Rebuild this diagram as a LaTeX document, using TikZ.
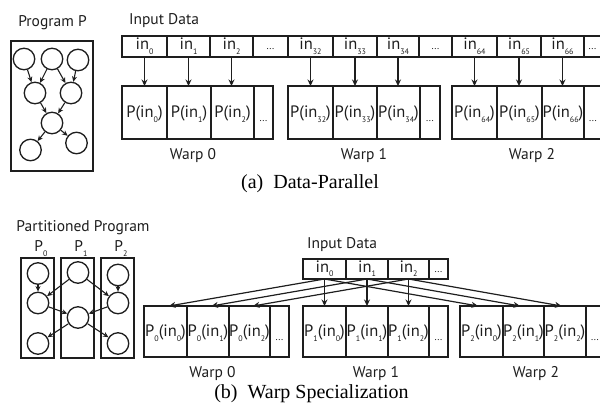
\documentclass[tikz,border=0pt]{standalone}
\usepackage{fontspec}
\setmainfont{PT Sans}
\newfontfamily\capfont{Liberation Serif}
\usetikzlibrary{arrows.meta}
\definecolor{ink}{HTML}{1E1E1E}
\newcommand{\sbs}[1]{\raisebox{-4.5pt}{\fontsize{8}{8}\selectfont #1}}
\newcommand{\dotsA}{{\fontsize{10}{10}\selectfont ...}}
\newcommand{\dotsB}{\raisebox{-4pt}{\fontsize{10}{10}\selectfont ...}}
\newcommand{\mkcell}[7][]{%
  \pgfmathsetmacro\mkX{(#3+#4)/2}%
  \pgfmathsetmacro\mkY{(#5+#6)/2}%
  \pgfmathsetmacro\mkW{#4-#3}%
  \pgfmathsetmacro\mkH{#6-#5}%
  \node[cellbox,minimum width=\mkW pt,minimum height=\mkH pt,#1] (#2) at (\mkX,\mkY) {#7};}
\tikzset{
  cellbox/.style={draw=ink, line width=1.3pt, inner sep=0pt, outer sep=0pt,
    font=\fontsize{16.5}{16.5}\selectfont, text=ink},
  inrow/.style={text height=11pt, text depth=4pt},
  warprow/.style={text height=11pt, text depth=0pt},
  gnode/.style={circle, draw=ink, line width=1.3pt, minimum size=21.5pt, inner sep=0pt},
  arr/.style={draw=ink, line width=1.2pt, -{Stealth[length=6.5pt,width=6pt]}},
  garr/.style={draw=ink, line width=1.1pt, -{Stealth[length=5.5pt,width=5pt]}},
  lbl/.style={font=\fontsize{15.5}{15.5}\selectfont, text=ink, inner sep=0pt, anchor=base},
  captxt/.style={font=\capfont\fontsize{20}{20}\selectfont, text=black, inner sep=0pt, anchor=base}
}
\begin{document}
\begin{tikzpicture}[x=1pt,y=-1pt]
\useasboundingbox (0,0) rectangle (600,411);
\clip (0,0) rectangle (600,411);

% ---------------- (a) ----------------
\node[lbl] (progP) at (52.5,27) {Program P};
\mkcell{progbox}{11}{93}{41}{171}{}
\node[gnode] (ga1) at (24,59) {};
\node[gnode] (ga2) at (52,59) {};
\node[gnode] (ga3) at (78,60) {};
\node[gnode] (ga4) at (35,93) {};
\node[gnode] (ga5) at (71,93) {};
\node[gnode] (ga6) at (52,123) {};
\node[gnode] (ga7) at (30.5,150) {};
\node[gnode] (ga8) at (76.5,143) {};
\foreach \a/\b in {ga1/ga4,ga2/ga4,ga2/ga5,ga3/ga5,ga4/ga6,ga5/ga6,ga6/ga7,ga6/ga8}
  \draw[garr] (\a) -- (\b);

\node[lbl] (inA) at (164,25) {Input Data};
\mkcell[inrow]{ia0}{122}{167}{36}{57}{in\sbs{0}}
\mkcell[inrow]{ia1}{167}{210}{36}{57}{in\sbs{1}}
\mkcell[inrow]{ia2}{210}{253}{36}{57}{in\sbs{2}}
\mkcell[inrow]{iad0}{253}{288}{36}{57}{\dotsA}
\mkcell[inrow]{ia32}{288}{333}{36}{57}{in\sbs{32}}
\mkcell[inrow]{ia33}{333}{377}{36}{57}{in\sbs{33}}
\mkcell[inrow]{ia34}{377}{419}{36}{57}{in\sbs{34}}
\mkcell[inrow]{iad1}{419}{452}{36}{57}{\dotsA}
\mkcell[inrow]{ia64}{452}{497}{36}{57}{in\sbs{64}}
\mkcell[inrow]{ia65}{497}{541}{36}{57}{in\sbs{65}}
\mkcell[inrow]{ia66}{541}{584}{36}{57}{in\sbs{66}}
\mkcell[inrow]{iad2}{584}{601}{36}{57}{\dotsA}

\mkcell[warprow]{wa00}{122}{167}{86}{139}{P(in\sbs{0})}
\mkcell[warprow]{wa01}{167}{211}{86}{139}{P(in\sbs{1})}
\mkcell[warprow]{wa02}{211}{254}{86}{139}{P(in\sbs{2})}
\mkcell[warprow]{wa0d}{254}{273}{86}{139}{\dotsB}
\mkcell[warprow]{wa10}{288}{333}{86}{139}{P(in\sbs{32})}
\mkcell[warprow]{wa11}{333}{377}{86}{139}{P(in\sbs{33})}
\mkcell[warprow]{wa12}{377}{420}{86}{139}{P(in\sbs{34})}
\mkcell[warprow]{wa1d}{420}{440}{86}{139}{\dotsB}
\mkcell[warprow]{wa20}{452}{497}{86}{139}{P(in\sbs{64})}
\mkcell[warprow]{wa21}{497}{542}{86}{139}{P(in\sbs{65})}
\mkcell[warprow]{wa22}{542}{584}{86}{139}{P(in\sbs{66})}
\mkcell[warprow]{wa2d}{584}{602}{86}{139}{\dotsB}

\foreach \a/\b in {ia0/wa00,ia1/wa01,ia2/wa02,ia32/wa10,ia33/wa11,ia34/wa12,ia64/wa20,ia65/wa21,ia66/wa22}
  \draw[arr] (\a.south) -- (\a.south |- \b.north);

\node[lbl] (wla0) at (193,159.5) {Warp 0};
\node[lbl] (wla1) at (364,159.5) {Warp 1};
\node[lbl] (wla2) at (532,159.5) {Warp 2};
\node[captxt] (capA) at (310,189) {(a)\hspace{0.5em}Data-Parallel};

% ---------------- (b) ----------------
\node[lbl] (partP) at (83,231.7) {Partitioned Program};
\node[lbl] (lp0) at (41,252) {P\sbs{0}};
\node[lbl] (lp1) at (81,252) {P\sbs{1}};
\node[lbl] (lp2) at (121,252) {P\sbs{2}};
\mkcell{colp0}{21}{54}{258}{358}{}
\mkcell{colp1}{61}{94}{258}{358}{}
\mkcell{colp2}{101}{134}{258}{358}{}
\node[gnode] (gb1) at (38,273.5) {};
\node[gnode] (gb2) at (38,303) {};
\node[gnode] (gb3) at (38,343.5) {};
\node[gnode] (gb4) at (78,272.5) {};
\node[gnode] (gb5) at (78,317.5) {};
\node[gnode] (gb6) at (118,275) {};
\node[gnode] (gb7) at (118,303) {};
\node[gnode] (gb8) at (118,343.5) {};
\foreach \a/\b in {gb1/gb2,gb4/gb2,gb4/gb7,gb6/gb7,gb2/gb5,gb7/gb5,gb5/gb3,gb5/gb8}
  \draw[garr] (\a) -- (\b);

\node[lbl] (inB) at (342,249) {Input Data};
\mkcell[inrow]{ib0}{303}{346}{259}{279}{in\sbs{0}}
\mkcell[inrow]{ib1}{346}{388}{259}{279}{in\sbs{1}}
\mkcell[inrow]{ib2}{388}{429}{259}{279}{in\sbs{2}}
\mkcell[inrow]{ibd}{429}{448}{259}{279}{\dotsA}

\mkcell[warprow]{wb00}{144}{187}{306}{357}{P\sbs{0}(in\sbs{0})}
\mkcell[warprow]{wb01}{187}{229}{306}{357}{P\sbs{0}(in\sbs{1})}
\mkcell[warprow]{wb02}{229}{270}{306}{357}{P\sbs{0}(in\sbs{2})}
\mkcell[warprow]{wb0d}{270}{289}{306}{357}{\dotsB}
\mkcell[warprow]{wb10}{303}{346}{306}{357}{P\sbs{1}(in\sbs{0})}
\mkcell[warprow]{wb11}{346}{388}{306}{357}{P\sbs{1}(in\sbs{1})}
\mkcell[warprow]{wb12}{388}{429}{306}{357}{P\sbs{1}(in\sbs{2})}
\mkcell[warprow]{wb1d}{429}{448}{306}{357}{\dotsB}
\mkcell[warprow]{wb20}{460}{503}{306}{357}{P\sbs{2}(in\sbs{0})}
\mkcell[warprow]{wb21}{503}{544}{306}{357}{P\sbs{2}(in\sbs{1})}
\mkcell[warprow]{wb22}{544}{586}{306}{357}{P\sbs{2}(in\sbs{2})}
\mkcell[warprow]{wb2d}{586}{604}{306}{357}{\dotsB}

\foreach \i in {0,1,2} {
  \draw[arr] (ib\i.south) -- ([xshift=3.5pt]wb0\i.north);
  \draw[arr] (ib\i.south) -- (ib\i.south |- wb1\i.north);
  \draw[arr] (ib\i.south) -- ([xshift=-3.5pt]wb2\i.north);
}

\node[lbl] (wlb0) at (212.5,377.5) {Warp 0};
\node[lbl] (wlb1) at (376,377.5) {Warp 1};
\node[lbl] (wlb2) at (536,377.5) {Warp 2};
\node[captxt] (capB) at (311.5,399) {(b)\hspace{0.5em}Warp Specialization};
\end{tikzpicture}
\end{document}
